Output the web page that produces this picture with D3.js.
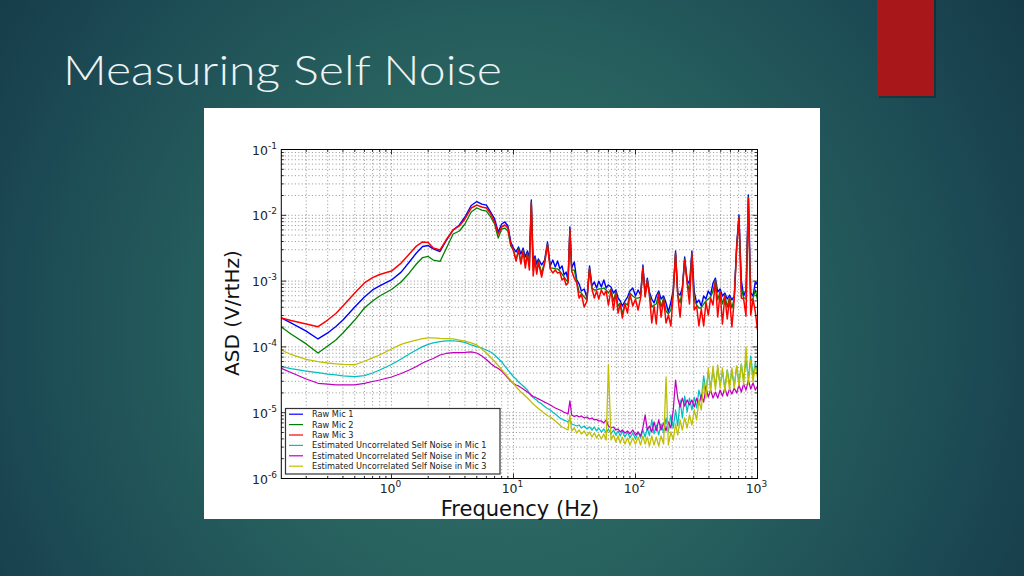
<!DOCTYPE html>
<html><head><meta charset="utf-8">
<script src="https://cdn.jsdelivr.net/npm/d3@7"></script>
<style>html,body{margin:0;padding:0;overflow:hidden;background:#1c4a52}</style>
</head><body><svg id="c" width="1024" height="576"></svg>
<script>
// ---------------- DATA ----------------
const freqs = [
0.125, 0.15, 0.2, 0.25, 0.3, 0.35, 0.4, 0.5, 0.6, 0.7,
0.8, 1, 1.2, 1.4, 1.6, 1.8, 2, 2.2, 2.5, 2.8,
3.2, 3.6, 4, 4.5, 5, 5.5, 6, 6.5, 7, 7.5,
8, 8.5, 9, 9.5, 10, 10.5, 11, 11.5, 12, 12.5,
13, 13.5, 14, 14.5, 15, 15.5, 16, 17, 18, 19,
20, 21, 22, 23, 24, 25, 26, 27, 28, 29,
30, 31.5, 33, 34.5, 36, 38, 40, 42, 44, 46,
48, 50, 52.5, 55, 57.5, 60, 63, 66, 69, 72,
75, 78, 82, 86, 90, 95, 100, 105, 110, 115,
120, 125, 130, 136, 142, 148, 155, 162, 170, 178,
186, 195, 204, 213, 222, 232, 242, 253, 265, 277,
290, 303, 317, 331, 346, 362, 378, 395, 413, 432,
452, 472, 494, 516, 540, 565, 590, 617, 645, 675,
705, 737, 770, 805, 842, 880, 920, 960, 1000
];
const rawMic1 = [
2.75e-4, 2.31e-4, 1.74e-4, 1.32e-4, 1.63e-4, 2.04e-4, 2.56e-4, 4.04e-4, 5.73e-4, 7.33e-4,
8.43e-4, 1.04e-3, 1.37e-3, 1.95e-3, 2.67e-3, 3.36e-3, 3.47e-3, 3.08e-3, 2.82e-3, 4.07e-3,
5.98e-3, 7.12e-3, 9.43e-3, 1.41e-2, 1.62e-2, 1.48e-2, 1.43e-2, 1.12e-2, 8.80e-3, 5.58e-3,
7.38e-3, 7.92e-3, 6.88e-3, 3.93e-3, 3.18e-3, 2.77e-3, 3.30e-3, 2.58e-3, 3.18e-3, 2.32e-3,
2.87e-3, 2.25e-3, 1.71e-2, 1.95e-3, 2.41e-3, 1.82e-3, 2.17e-3, 1.76e-3, 2.09e-3, 3.93e-3,
1.70e-3, 2.09e-3, 1.64e-3, 2.02e-3, 1.53e-3, 1.70e-3, 1.24e-3, 1.37e-3, 1.04e-3, 6.64e-3,
1.58e-3, 1.95e-3, 1.04e-3, 9.05e-4, 7.06e-4, 7.60e-4, 5.53e-4, 1.70e-3, 8.43e-4, 9.71e-4,
7.86e-4, 1.00e-3, 8.14e-4, 1.04e-3, 7.86e-4, 8.74e-4, 8.14e-4, 6.59e-4, 7.33e-4, 5.53e-4,
4.98e-4, 4.18e-4, 4.98e-4, 5.73e-4, 7.06e-4, 7.86e-4, 5.94e-4, 7.33e-4, 6.15e-4, 1.76e-3,
6.36e-4, 1.11e-3, 6.83e-4, 5.34e-4, 4.65e-4, 5.94e-4, 7.06e-4, 5.34e-4, 5.94e-4, 4.65e-4,
3.39e-4, 4.81e-4, 7.33e-4, 2.87e-3, 6.59e-4, 6.15e-4, 7.86e-4, 2.32e-3, 1.04e-3, 9.05e-4,
2.87e-3, 6.83e-4, 4.65e-4, 5.17e-4, 4.18e-4, 5.94e-4, 5.34e-4, 7.06e-4, 6.15e-4, 9.37e-4,
1.11e-3, 6.83e-4, 7.60e-4, 5.94e-4, 6.59e-4, 5.34e-4, 6.15e-4, 5.17e-4, 5.94e-4, 3.54e-3,
1.01e-2, 1.04e-3, 5.94e-4, 7.33e-4, 2.04e-2, 6.59e-4, 5.94e-4, 9.71e-4, 9.05e-4
];
const rawMic2 = [
2.01e-4, 1.57e-4, 1.11e-4, 8.08e-5, 1.03e-4, 1.27e-4, 1.63e-4, 2.56e-4, 3.90e-4, 4.98e-4,
5.94e-4, 7.46e-4, 9.71e-4, 1.33e-3, 1.82e-3, 2.28e-3, 2.37e-3, 2.09e-3, 1.99e-3, 3.08e-3,
5.20e-3, 5.77e-3, 7.38e-3, 1.12e-2, 1.29e-2, 1.20e-2, 1.16e-2, 9.43e-3, 7.38e-3, 4.52e-3,
6.19e-3, 6.41e-3, 5.77e-3, 3.41e-3, 2.97e-3, 2.09e-3, 3.08e-3, 1.95e-3, 2.97e-3, 1.76e-3,
2.67e-3, 1.70e-3, 1.59e-2, 1.47e-3, 2.25e-3, 1.37e-3, 2.02e-3, 1.33e-3, 1.95e-3, 3.66e-3,
1.58e-3, 1.58e-3, 1.53e-3, 1.53e-3, 1.42e-3, 1.28e-3, 1.15e-3, 1.04e-3, 9.71e-4, 6.19e-3,
1.47e-3, 1.47e-3, 9.71e-4, 6.83e-4, 6.59e-4, 5.73e-4, 5.17e-4, 1.58e-3, 7.86e-4, 7.33e-4,
7.33e-4, 7.60e-4, 7.60e-4, 7.86e-4, 7.33e-4, 6.59e-4, 7.60e-4, 4.98e-4, 6.83e-4, 4.18e-4,
4.65e-4, 3.16e-4, 4.65e-4, 4.33e-4, 6.59e-4, 5.94e-4, 5.53e-4, 5.53e-4, 5.73e-4, 1.64e-3,
5.94e-4, 1.04e-3, 6.36e-4, 4.04e-4, 4.33e-4, 4.49e-4, 6.59e-4, 4.04e-4, 5.53e-4, 3.51e-4,
3.16e-4, 3.64e-4, 6.83e-4, 2.67e-3, 6.15e-4, 4.65e-4, 7.33e-4, 2.17e-3, 9.71e-4, 6.83e-4,
2.67e-3, 5.17e-4, 4.33e-4, 3.90e-4, 3.90e-4, 4.49e-4, 4.98e-4, 5.34e-4, 5.73e-4, 7.06e-4,
1.04e-3, 5.17e-4, 7.06e-4, 4.49e-4, 6.15e-4, 4.04e-4, 5.73e-4, 3.90e-4, 5.53e-4, 3.30e-3,
9.43e-3, 7.86e-4, 5.53e-4, 5.53e-4, 1.90e-2, 4.98e-4, 5.53e-4, 7.33e-4, 5.17e-4
];
const rawMic3 = [
2.75e-4, 2.52e-4, 2.23e-4, 2.03e-4, 2.56e-4, 3.22e-4, 4.18e-4, 6.59e-4, 9.37e-4, 1.13e-3,
1.26e-3, 1.42e-3, 1.88e-3, 2.58e-3, 3.41e-3, 3.93e-3, 3.86e-3, 3.18e-3, 2.97e-3, 4.21e-3,
5.98e-3, 6.88e-3, 8.80e-3, 1.29e-2, 1.43e-2, 1.34e-2, 1.29e-2, 1.05e-2, 7.92e-3, 5.20e-3,
6.64e-3, 7.12e-3, 6.41e-3, 3.66e-3, 2.87e-3, 2.02e-3, 2.97e-3, 1.82e-3, 2.87e-3, 1.58e-3,
2.58e-3, 1.47e-3, 1.54e-2, 1.20e-3, 2.17e-3, 1.28e-3, 1.95e-3, 1.15e-3, 1.88e-3, 3.54e-3,
1.53e-3, 1.33e-3, 1.47e-3, 1.33e-3, 1.37e-3, 1.04e-3, 1.11e-3, 8.74e-4, 9.37e-4, 5.98e-3,
1.42e-3, 1.11e-3, 9.37e-4, 5.53e-4, 6.36e-4, 4.04e-4, 4.98e-4, 1.53e-3, 7.60e-4, 5.53e-4,
7.06e-4, 5.34e-4, 7.33e-4, 6.15e-4, 7.06e-4, 4.33e-4, 7.33e-4, 3.64e-4, 6.59e-4, 3.27e-4,
4.49e-4, 2.75e-4, 4.49e-4, 3.27e-4, 6.36e-4, 4.18e-4, 5.34e-4, 3.64e-4, 5.53e-4, 1.58e-3,
5.73e-4, 1.00e-3, 6.15e-4, 2.31e-4, 4.18e-4, 2.23e-4, 6.36e-4, 2.84e-4, 5.34e-4, 2.31e-4,
3.05e-4, 2.08e-4, 6.59e-4, 2.58e-3, 5.94e-4, 2.84e-4, 7.06e-4, 2.09e-3, 9.37e-4, 4.49e-4,
2.58e-3, 3.64e-4, 4.18e-4, 2.08e-4, 3.76e-4, 2.08e-4, 4.81e-4, 3.05e-4, 5.53e-4, 4.33e-4,
1.00e-3, 2.84e-4, 6.83e-4, 2.23e-4, 5.94e-4, 2.66e-4, 5.53e-4, 2.01e-4, 5.34e-4, 3.18e-3,
9.11e-3, 5.53e-4, 5.34e-4, 2.94e-4, 1.83e-2, 3.05e-4, 5.34e-4, 3.39e-4, 1.81e-4
];
const selfNoise1 = [
5.00e-5, 4.69e-5, 4.30e-5, 4.05e-5, 3.87e-5, 3.77e-5, 3.64e-5, 3.52e-5, 3.67e-5, 4.01e-5,
4.46e-5, 5.41e-5, 6.55e-5, 7.81e-5, 8.98e-5, 1.01e-4, 1.09e-4, 1.15e-4, 1.20e-4, 1.23e-4,
1.24e-4, 1.21e-4, 1.17e-4, 1.07e-4, 1.01e-4, 9.63e-5, 8.98e-5, 8.37e-5, 7.53e-5, 6.67e-5,
5.90e-5, 5.12e-5, 4.46e-5, 3.94e-5, 3.52e-5, 3.25e-5, 2.93e-5, 2.73e-5, 2.55e-5, 2.37e-5,
2.21e-5, 1.99e-5, 1.79e-5, 1.70e-5, 1.62e-5, 1.56e-5, 1.45e-5, 1.36e-5, 1.24e-5, 1.16e-5,
1.10e-5, 1.02e-5, 9.54e-6, 8.92e-6, 8.32e-6, 8.03e-6, 7.62e-6, 7.49e-6, 7.23e-6, 8.03e-6,
6.74e-6, 6.50e-6, 6.28e-6, 6.50e-6, 5.86e-6, 6.28e-6, 5.66e-6, 6.07e-6, 5.46e-6, 6.07e-6,
5.28e-6, 5.86e-6, 5.09e-6, 5.66e-6, 4.92e-6, 5.66e-6, 4.75e-6, 5.46e-6, 4.58e-6, 5.28e-6,
4.43e-6, 5.28e-6, 4.27e-6, 5.09e-6, 4.12e-6, 4.92e-6, 3.98e-6, 5.09e-6, 4.12e-6, 5.46e-6,
4.27e-6, 5.86e-6, 4.43e-6, 7.75e-6, 4.75e-6, 6.50e-6, 4.58e-6, 6.74e-6, 4.92e-6, 8.32e-6,
5.09e-6, 9.24e-6, 5.86e-6, 1.10e-5, 6.28e-6, 1.56e-5, 8.32e-6, 1.79e-5, 1.02e-5, 1.67e-5,
1.10e-5, 1.73e-5, 1.18e-5, 2.21e-5, 1.56e-5, 3.62e-5, 2.06e-5, 4.15e-5, 2.37e-5, 4.46e-5,
2.55e-5, 4.78e-5, 2.64e-5, 4.15e-5, 2.37e-5, 4.46e-5, 2.73e-5, 4.15e-5, 2.55e-5, 5.12e-5,
2.83e-5, 5.49e-5, 3.14e-5, 6.32e-5, 3.37e-5, 7.28e-5, 3.62e-5, 5.90e-5, 3.87e-5
];
const selfNoise2 = [
4.72e-5, 4.08e-5, 3.25e-5, 2.80e-5, 2.71e-5, 2.65e-5, 2.64e-5, 2.64e-5, 2.78e-5, 2.98e-5,
3.14e-5, 3.49e-5, 3.94e-5, 4.46e-5, 5.04e-5, 5.69e-5, 6.21e-5, 6.67e-5, 7.53e-5, 7.94e-5,
8.17e-5, 8.22e-5, 8.27e-5, 8.43e-5, 8.08e-5, 7.28e-5, 6.44e-5, 5.60e-5, 5.04e-5, 4.69e-5,
4.30e-5, 3.81e-5, 3.37e-5, 3.03e-5, 2.78e-5, 2.64e-5, 2.55e-5, 2.41e-5, 2.29e-5, 2.17e-5,
2.06e-5, 1.96e-5, 1.86e-5, 1.76e-5, 1.73e-5, 1.67e-5, 1.62e-5, 1.53e-5, 1.45e-5, 1.38e-5,
1.31e-5, 1.24e-5, 1.18e-5, 1.14e-5, 1.10e-5, 1.06e-5, 1.01e-5, 9.90e-6, 9.54e-6, 1.51e-5,
9.24e-6, 8.77e-6, 9.08e-6, 8.61e-6, 8.92e-6, 8.32e-6, 8.61e-6, 8.03e-6, 8.32e-6, 7.75e-6,
7.89e-6, 7.49e-6, 7.49e-6, 6.98e-6, 7.75e-6, 6.28e-6, 5.86e-6, 6.07e-6, 5.46e-6, 5.66e-6,
5.09e-6, 5.46e-6, 4.92e-6, 5.28e-6, 4.75e-6, 5.46e-6, 4.58e-6, 5.09e-6, 4.43e-6, 5.86e-6,
9.24e-6, 5.46e-6, 6.28e-6, 5.09e-6, 7.23e-6, 5.28e-6, 7.75e-6, 5.46e-6, 6.98e-6, 5.28e-6,
7.23e-6, 5.86e-6, 1.10e-5, 3.14e-5, 1.67e-5, 1.22e-5, 1.67e-5, 1.26e-5, 1.56e-5, 1.31e-5,
1.56e-5, 1.22e-5, 1.67e-5, 1.31e-5, 1.86e-5, 1.45e-5, 2.46e-5, 1.73e-5, 2.21e-5, 1.67e-5,
2.06e-5, 1.67e-5, 2.21e-5, 1.79e-5, 2.37e-5, 1.79e-5, 2.29e-5, 1.92e-5, 2.37e-5, 1.99e-5,
2.64e-5, 2.06e-5, 2.73e-5, 2.21e-5, 3.14e-5, 2.29e-5, 2.83e-5, 2.21e-5, 2.55e-5
];
const selfNoise3 = [
8.98e-5, 7.67e-5, 6.44e-5, 5.96e-5, 5.69e-5, 5.53e-5, 5.41e-5, 5.35e-5, 6.05e-5, 6.79e-5,
7.53e-5, 9.30e-5, 1.09e-4, 1.19e-4, 1.27e-4, 1.34e-4, 1.37e-4, 1.37e-4, 1.35e-4, 1.34e-4,
1.32e-4, 1.27e-4, 1.22e-4, 1.15e-4, 1.07e-4, 9.30e-5, 8.08e-5, 6.90e-5, 6.00e-5, 5.22e-5,
4.53e-5, 3.94e-5, 3.49e-5, 3.09e-5, 2.78e-5, 2.46e-5, 2.25e-5, 2.06e-5, 1.92e-5, 1.79e-5,
1.67e-5, 1.56e-5, 1.45e-5, 1.36e-5, 1.29e-5, 1.22e-5, 1.16e-5, 1.06e-5, 9.74e-6, 9.08e-6,
8.61e-6, 8.03e-6, 7.49e-6, 6.98e-6, 6.50e-6, 6.07e-6, 5.86e-6, 5.66e-6, 5.46e-6, 9.24e-6,
5.28e-6, 5.86e-6, 4.92e-6, 5.46e-6, 4.75e-6, 5.28e-6, 4.43e-6, 5.09e-6, 4.27e-6, 4.92e-6,
4.12e-6, 4.75e-6, 3.98e-6, 4.75e-6, 3.84e-6, 5.31e-5, 3.84e-6, 4.58e-6, 3.59e-6, 4.43e-6,
3.46e-6, 4.27e-6, 3.34e-6, 4.12e-6, 3.23e-6, 4.12e-6, 3.34e-6, 4.27e-6, 3.23e-6, 4.43e-6,
3.34e-6, 4.27e-6, 3.12e-6, 4.43e-6, 3.23e-6, 4.27e-6, 3.12e-6, 4.43e-6, 3.34e-6, 3.49e-5,
3.23e-6, 5.09e-6, 3.84e-6, 6.74e-6, 4.58e-6, 7.75e-6, 5.46e-6, 8.32e-6, 5.86e-6, 9.24e-6,
6.50e-6, 1.10e-5, 7.75e-6, 1.56e-5, 1.10e-5, 2.93e-5, 1.67e-5, 4.78e-5, 2.06e-5, 5.12e-5,
2.21e-5, 5.31e-5, 2.37e-5, 4.78e-5, 2.06e-5, 4.46e-5, 2.21e-5, 4.78e-5, 2.37e-5, 5.12e-5,
2.55e-5, 5.49e-5, 2.64e-5, 9.97e-5, 2.73e-5, 6.32e-5, 2.93e-5, 5.31e-5, 3.37e-5
];
const seriesNames = ["Raw Mic 1", "Raw Mic 2", "Raw Mic 3",
  "Estimated Uncorrelated Self Noise in Mic 1",
  "Estimated Uncorrelated Self Noise in Mic 2",
  "Estimated Uncorrelated Self Noise in Mic 3"];
const xMajorTicks = [1, 10, 100, 1000];
const xTickExponents = ["0", "1", "2", "3"];
const yMajorTicks = [1e-1, 1e-2, 1e-3, 1e-4, 1e-5, 1e-6];
const yTickExponents = ["-1", "-2", "-3", "-4", "-5", "-6"];
const titleText = "Measuring Self Noise";
const xLabel = "Frequency (Hz)";
const yLabel = "ASD (V/rtHz)";

// ---------------- STYLE ----------------
const seriesValues = [rawMic1, rawMic2, rawMic3, selfNoise1, selfNoise2, selfNoise3];
const seriesColors = ["#0000ff", "#008000", "#ff0000", "#00bfbf", "#bf00bf", "#bfbf00"];
const seriesWidths = [1.4, 1.3, 1.5, 1.25, 1.25, 1.3];

const svg = d3.select("#c");
const defs = svg.append("defs");
const grad = defs.append("radialGradient").attr("id", "bg")
  .attr("gradientUnits", "userSpaceOnUse").attr("cx", 500).attr("cy", 330).attr("r", 640);
[[0, "#32716b"], [0.4, "#28625f"], [0.75, "#1c4a54"], [1, "#143846"]].forEach(s =>
  grad.append("stop").attr("offset", s[0]).attr("stop-color", s[1]));
svg.append("rect").attr("width", 1024).attr("height", 576).attr("fill", "url(#bg)");

// accent bar
svg.append("rect").attr("x", 879).attr("y", 0).attr("width", 57).attr("height", 98)
  .attr("fill", "#000").attr("opacity", 0.25);
svg.append("rect").attr("x", 877).attr("y", 0).attr("width", 57).attr("height", 96)
  .attr("fill", "#a8171a");

// title
svg.append("text").attr("x", 63).attr("y", 85).text(titleText)
  .attr("font-family", "Lato, 'Open Sans', 'DejaVu Sans', sans-serif")
  .attr("font-weight", 300).attr("font-size", 42).attr("fill", "#eef3f3")
  .attr("textLength", 439).attr("lengthAdjust", "spacingAndGlyphs");

// figure panel
svg.append("rect").attr("x", 204).attr("y", 108).attr("width", 616).attr("height", 411)
  .attr("fill", "#ffffff");

const L = 281.3, R = 757.5, T = 149.5, B = 478.5;
const x = d3.scaleLog().domain([0.125, 1000]).range([L, R]);
const y = d3.scaleLog().domain([1e-6, 1e-1]).range([B, T]);

defs.append("clipPath").attr("id", "plot").append("rect")
  .attr("x", L).attr("y", T).attr("width", R - L).attr("height", B - T);

// grid (major + minor, dotted)
const xAll = x.ticks().filter(v => v > 0.125 && v < 1000);
const yAll = y.ticks().filter(v => v > 1e-6 && v < 1e-1);
const grid = svg.append("g").attr("stroke", "#333").attr("stroke-width", 0.75)
  .attr("stroke-dasharray", "1,2.4").attr("opacity", 0.7);
grid.selectAll(".gx").data(xAll).join("line")
  .attr("x1", d => x(d)).attr("x2", d => x(d)).attr("y1", T).attr("y2", B);
grid.selectAll(".gy").data(yAll).join("line")
  .attr("y1", d => y(d)).attr("y2", d => y(d)).attr("x1", L).attr("x2", R);

// series
const line = d3.line().x(d => x(d[0])).y(d => y(d[1]));
const plotG = svg.append("g").attr("clip-path", "url(#plot)");
seriesValues.forEach((vals, i) => {
  plotG.append("path").datum(d3.zip(freqs, vals))
    .attr("d", line).attr("fill", "none")
    .attr("stroke", seriesColors[i]).attr("stroke-width", seriesWidths[i])
    .attr("stroke-linejoin", "round");
});

// frame
svg.append("rect").attr("x", L).attr("y", T).attr("width", R - L).attr("height", B - T)
  .attr("fill", "none").attr("stroke", "#000").attr("stroke-width", 1);

// ticks (inward on all sides)
const isMajor = v => Math.abs(Math.log10(v) - Math.round(Math.log10(v))) < 1e-9;
const tk = svg.append("g").attr("stroke", "#000").attr("stroke-width", 0.8);
xAll.concat([1000]).forEach(v => {
  const len = isMajor(v) ? 5 : 2.5, px = x(v);
  tk.append("line").attr("x1", px).attr("x2", px).attr("y1", B).attr("y2", B - len);
  tk.append("line").attr("x1", px).attr("x2", px).attr("y1", T).attr("y2", T + len);
});
yAll.forEach(v => {
  const len = isMajor(v) ? 5 : 2.5, py = y(v);
  tk.append("line").attr("x1", L).attr("x2", L + len).attr("y1", py).attr("y2", py);
  tk.append("line").attr("x1", R).attr("x2", R - len).attr("y1", py).attr("y2", py);
});

// tick labels
const font = "'DejaVu Sans', Verdana, sans-serif";
xMajorTicks.forEach((v, i) => {
  const t = svg.append("text").attr("x", x(v) - 1).attr("y", 493)
    .attr("text-anchor", "middle").attr("font-family", font).attr("font-size", 12.5).attr("fill", "#222");
  t.append("tspan").text("10");
  t.append("tspan").attr("dy", -6).attr("font-size", 9).text(xTickExponents[i]);
});
yMajorTicks.forEach((v, i) => {
  const t = svg.append("text").attr("x", 277).attr("y", y(v) + 5)
    .attr("text-anchor", "end").attr("font-family", font).attr("font-size", 12.5).attr("fill", "#222");
  t.append("tspan").text("10");
  t.append("tspan").attr("dy", -6).attr("font-size", 9).text(yTickExponents[i]);
});

// axis labels
svg.append("text").attr("x", 520).attr("y", 516).attr("text-anchor", "middle")
  .attr("font-family", font).attr("font-size", 21).attr("fill", "#111").text(xLabel);
svg.append("text").attr("transform", "translate(239,313) rotate(-90)").attr("text-anchor", "middle")
  .attr("font-family", font).attr("font-size", 20).attr("fill", "#111").text(yLabel);

// legend
const lg = svg.append("g");
lg.append("rect").attr("x", 285.5).attr("y", 408.5).attr("width", 214.5).attr("height", 65.5)
  .attr("fill", "#fff").attr("stroke", "#333").attr("stroke-width", 1.2);
seriesNames.forEach((n, i) => {
  const yy = 414.2 + i * 10.4;
  lg.append("line").attr("x1", 289).attr("x2", 303).attr("y1", yy).attr("y2", yy)
    .attr("stroke", seriesColors[i]).attr("stroke-width", 1.2);
  lg.append("text").attr("x", 312).attr("y", yy + 3).attr("font-family", font)
    .attr("font-size", 8.2).attr("fill", "#222").text(n);
});
</script></body></html>
